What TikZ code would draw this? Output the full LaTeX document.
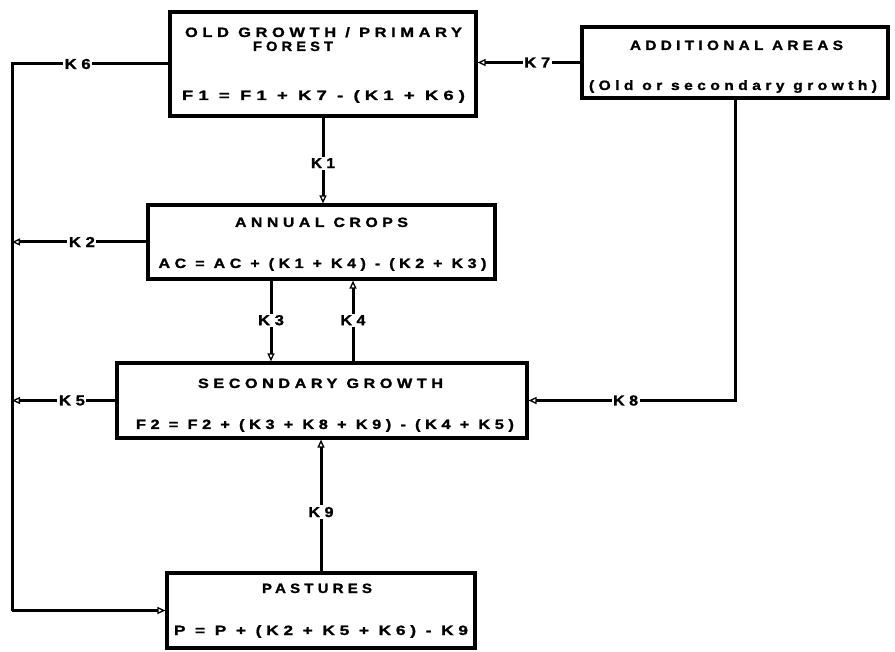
\documentclass[tikz,border=0pt]{standalone}
\usepackage{fontspec}
\usepackage{graphicx}
\setmainfont{Liberation Sans}[LetterSpace=28, FakeBold=1.2]
\usetikzlibrary{arrows.meta}
\newcommand{\fitw}[2]{\resizebox{#1}{\height}{#2}}
\tikzset{
  box/.style={draw, line width=3.2pt, rectangle, inner sep=0pt},
  txt/.style={inner sep=0pt, anchor=base, font=\fontsize{13.5}{16}\selectfont\bfseries},
  lab/.style={fill=white, inner sep=1.5pt, font=\fontsize{14.5}{16}\selectfont\bfseries},
  flow/.style={line width=3pt, -{Triangle[open, length=8pt, width=7pt, line width=1.3pt, fill=white]}},
  plainflow/.style={line width=3pt}
}
\begin{document}
\begin{tikzpicture}[x=1pt,y=-1pt]
\useasboundingbox (0,0) rectangle (895,652);
% boxes
\node[box, minimum width=306pt, minimum height=104pt] (old) at (323,64) {};
\node[box, minimum width=306pt, minimum height=71pt] (add) at (735,62.5) {};
\node[box, minimum width=347pt, minimum height=74pt] (ac) at (321.5,242) {};
\node[box, minimum width=410pt, minimum height=75pt] (sg) at (322,400.5) {};
\node[box, minimum width=308pt, minimum height=75pt] (past) at (321,610.5) {};
% texts
\node[txt] (oldA) at (323.5,37) {\fitw{277pt}{OLD GROWTH / PRIMARY}};
\node[txt] (oldB) at (293,51) {\fitw{80pt}{FOREST}};
\node[txt] (oldC) at (323.5,100) {\fitw{283pt}{F1 = F1 + K7 - (K1 + K6)}};
\node[txt] (addA) at (736.5,50) {\fitw{213pt}{ADDITIONAL AREAS}};
\node[txt] (addB) at (733,90) {\fitw{288pt}{(Old or secondary growth)}};
\node[txt] (acA) at (321.5,227) {\fitw{173pt}{ANNUAL CROPS}};
\node[txt] (acB) at (322.5,268) {\fitw{328pt}{AC = AC + (K1 + K4) - (K2 + K3)}};
\node[txt] (sgA) at (320.5,388) {\fitw{245pt}{SECONDARY GROWTH}};
\node[txt] (sgB) at (325,429) {\fitw{378pt}{F2 = F2 + (K3 + K8 + K9) - (K4 + K5)}};
\node[txt] (pastA) at (317,593) {\fitw{110pt}{PASTURES}};
\node[txt] (pastB) at (321,635) {\fitw{294pt}{P = P + (K2 + K5 + K6) - K9}};
% helper coordinates
\coordinate (L) at (12,0);
\coordinate (k3x) at (271,0);
\coordinate (k4x) at (353,0);
% connectors
\draw[plainflow] (old.west) -- node[lab, pos=0.58] {\fitw{26pt}{K6}} (old.west -| L) -- (past.west -| L);
\draw[flow] (past.west -| L) -- (past.west);
\draw[flow] (add.west) -- node[lab, pos=0.42] {\fitw{26pt}{K7}} (add.west -| old.east);
\draw[flow] (old.south) -- node[lab, pos=0.53] {\fitw{24pt}{K1}} (old.south |- ac.north);
\draw[flow] (ac.west) -- node[lab, pos=0.48] {\fitw{26pt}{K2}} (ac.west -| L);
\draw[flow] (ac.south -| k3x) -- node[lab, pos=0.49] {\fitw{26pt}{K3}} (sg.north -| k3x);
\draw[flow] (sg.north -| k4x) -- node[lab, pos=0.51] {\fitw{25pt}{K4}} (ac.south -| k4x);
\draw[flow] (sg.west) -- node[lab, pos=0.42] {\fitw{26pt}{K5}} (sg.west -| L);
\draw[flow] (add.south) |- node[lab, pos=0.765] {\fitw{25pt}{K8}} (sg.east);
\draw[flow] (past.north) -- node[lab, pos=0.45] {\fitw{25pt}{K9}} (past.north |- sg.south);
\end{tikzpicture}
\end{document}
